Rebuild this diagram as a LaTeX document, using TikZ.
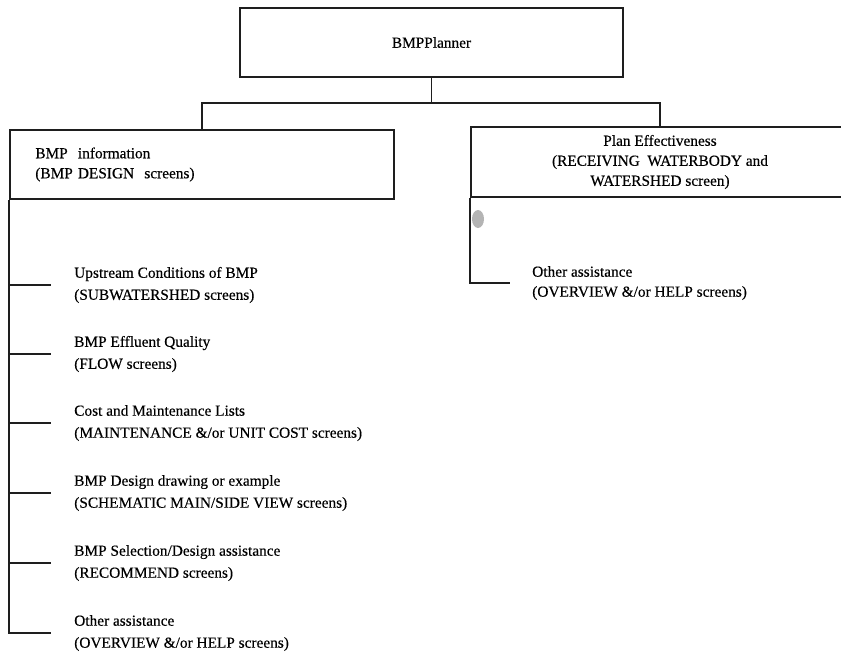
\documentclass[tikz,border=0pt]{standalone}
\usepackage{fontspec}
\setmainfont{Liberation Serif}[FakeBold=0.35]
\usetikzlibrary{positioning}
\definecolor{scanink}{HTML}{1E1E1E}
\definecolor{speck}{HTML}{B4B4B4}

\begin{document}
\begin{tikzpicture}[
  x=0.75pt, y=-0.75pt,
  font=\fontsize{11.5}{15}\selectfont,
  box/.style={draw=scanink, line width=1.3pt, inner sep=0pt, align=center},
  item/.style={anchor=west, align=left, inner xsep=17.25pt, inner ysep=0pt,
               font=\fontsize{11.5}{16.5}\selectfont},
  link/.style={draw=scanink, line width=1.3pt},
  ]
  \useasboundingbox (0,0) rectangle (841,654);

  \node[box, minimum width=287pt, minimum height=52pt] (planner) at (431.5,42.5) {BMPPlanner};
  \node[box, minimum width=288pt, minimum height=52pt, text width=250pt,
        align=left, inner xsep=19pt] (bmpinfo) at (202,164.5)
        {BMP\ \ information\\(BMP DESIGN\ \ screens)};
  \node[box, minimum width=283.5pt, minimum height=52.5pt] (planeff) at (660,162)
        {Plan Effectiveness\\(RECEIVING\ \ WATERBODY and\\WATERSHED screen)};
  \coordinate (bar) at (431.5,103);

  % BMP information branch
  \node[item] (upstream) at (51,285) {Upstream Conditions of BMP\\(SUBWATERSHED screens)};
  \node[item] (effluent) at (51,354) {BMP Effluent Quality\\(FLOW screens)};
  \node[item] (cost) at (51,423) {Cost and Maintenance Lists\\(MAINTENANCE \&/or UNIT COST screens)};
  \node[item] (drawing) at (51,493) {BMP Design drawing or example\\(SCHEMATIC MAIN/SIDE VIEW screens)};
  \node[item] (select) at (51,563) {BMP Selection/Design assistance\\(RECOMMEND screens)};
  \node[item] (otherinfo) at (51,633) {Other assistance\\(OVERVIEW \&/or HELP screens)};

  % plan effectiveness branch
  \node[item, inner xsep=16.5pt, font=\fontsize{11.5}{15}\selectfont] (otherplan) at (510,283)
        {Other assistance\\(OVERVIEW \&/or HELP screens)};

  \draw[link] (planner) -- (bar);
  \draw[link] (bmpinfo.north) |- (bar) -| (planeff.north);
  \draw[link] (bmpinfo.south west) |- (upstream.west);
  \draw[link] (bmpinfo.south west) |- (effluent.west);
  \draw[link] (bmpinfo.south west) |- (cost.west);
  \draw[link] (bmpinfo.south west) |- (drawing.west);
  \draw[link] (bmpinfo.south west) |- (select.west);
  \draw[link] (bmpinfo.south west) |- (otherinfo.west);
  \draw[link] (planeff.south west) |- (otherplan.west);

  \fill[speck] (478,219) ellipse (6 and 9);
\end{tikzpicture}
\end{document}
